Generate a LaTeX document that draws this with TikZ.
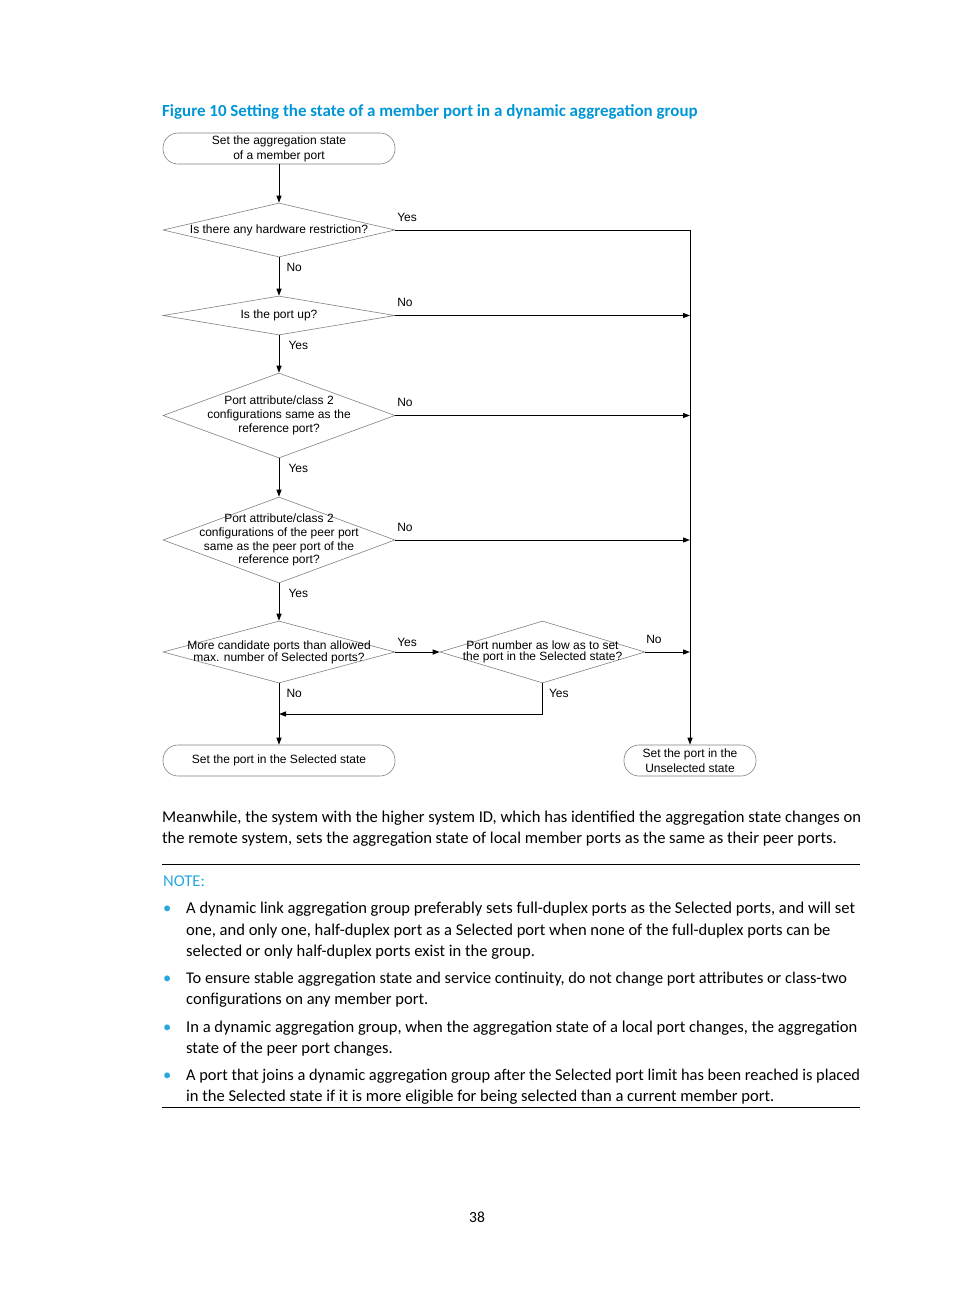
\documentclass[tikz,border=0pt]{standalone}
\usepackage{fontspec}
\setmainfont{Carlito}
\newfontfamily\arialf{Liberation Sans}
\usetikzlibrary{arrows.meta,shapes.geometric}
\definecolor{hpblue}{HTML}{0096D6}
\definecolor{noteblue}{HTML}{2AA6DF}
\definecolor{shapegray}{HTML}{808080}
\begin{document}
\begin{tikzpicture}[x=1pt,y=-1pt,
  dia/.style={draw=shapegray, line width=0.6pt, shape=diamond, inner sep=0pt, minimum width=232pt},
  term/.style={draw=shapegray, line width=0.6pt, rounded corners=15pt, minimum height=31pt, inner sep=0pt, align=center, font=\arialf\fontsize{12}{15}\selectfont},
  dlab/.style={font=\arialf\fontsize{12}{13.9}\selectfont, align=center, inner sep=0pt},
  dlabt/.style={font=\arialf\fontsize{12}{10.8}\selectfont, align=center, inner sep=0pt},
  arr/.style={line width=1pt, -{Triangle[length=7pt,width=5pt]}},
  elab/.style={font=\arialf\fontsize{12}{14}\selectfont, inner sep=0pt},
  hlab/.style={elab, pos=0, anchor=south west, xshift=1.5pt, yshift=8pt},
  vlab/.style={elab, pos=0, anchor=north west, xshift=7pt, yshift=-5.5pt},
  body/.style={anchor=base west, inner sep=0pt, font=\fontsize{16.55}{21}\selectfont},
  bullet/.style={anchor=base west, inner sep=0pt, text=noteblue, font=\fontsize{16.5}{21}\selectfont},
  rulel/.style={line width=0.9pt}
]
\useasboundingbox (0,0) rectangle (954,1296);

% title
\node[body, text=hpblue, font=\bfseries\fontsize{16.95}{18}\selectfont] (title) at (162,116) {Figure 10 Setting the state of a member port in a dynamic aggregation group};

% flowchart nodes
\node[term, minimum width=232pt] (start) at (279,148.5) {Set the aggregation state\\of a member port};
\node[dia, minimum height=54pt, label={[dlab]center:Is there any hardware restriction?}] (d1) at (279,230) {};
\node[dia, minimum height=39pt, label={[dlab]center:Is the port up?}] (d2) at (279,315.5) {};
\node[dia, minimum height=85pt, label={[dlab]center:Port attribute/class 2\\configurations same as the\\reference port?}] (d3) at (279,415.5) {};
\node[dia, minimum height=86pt, label={[dlab]center:Port attribute/class 2\\configurations of the peer port\\same as the peer port of the\\reference port?}] (d4) at (279,540) {};
\node[dia, minimum height=62pt, label={[dlabt]center:More candidate ports than allowed\\max. number of Selected ports?}] (d5) at (279,652) {};
\node[dia, minimum width=205pt, minimum height=62pt, label={[dlabt]center:Port number as low as to set\\the port in the Selected state?}] (d6) at (542.5,652) {};
\node[term, minimum width=232pt] (sel) at (279,760.5) {Set the port in the Selected state};
\node[term, minimum width=132pt] (unsel) at (690,760.5) {Set the port in the\\Unselected state};
\coordinate (j) at (279,714);

% connectors
\draw[arr] (start.south) -- (d1.north);
\draw[arr] (d1.east) -| node[hlab]{Yes} (unsel.north);
\draw[arr] (d1.south) -- node[vlab]{No} (d2.north);
\draw[arr] (d2.east) -- node[hlab]{No} (d2.east -| unsel.north);
\draw[arr] (d2.south) -- node[vlab, xshift=2pt]{Yes} (d3.north);
\draw[arr] (d3.east) -- node[hlab]{No} (d3.east -| unsel.north);
\draw[arr] (d3.south) -- node[vlab, xshift=2pt]{Yes} (d4.north);
\draw[arr] (d4.east) -- node[hlab]{No} (d4.east -| unsel.north);
\draw[arr] (d4.south) -- node[vlab, xshift=2pt]{Yes} (d5.north);
\draw[arr] (d5.east) -- node[hlab, yshift=-3pt]{Yes} (d6.west);
\draw[arr] (d6.east) -- node[hlab, xshift=-1pt]{No} (d6.east -| unsel.north);
\draw[arr] (d5.south) -- node[vlab]{No} (sel.north);
\draw[arr] (d6.south) |- node[vlab, xshift=-1pt]{Yes} (j);

% body text
\node[body] (p1) at (162,822) {Meanwhile, the system with the higher system ID, which has identified the aggregation state changes on};
\node[body] (p2) at (162,843) {the remote system, sets the aggregation state of local member ports as the same as their peer ports.};
\coordinate (r1a) at (162,864);
\coordinate (r1b) at (860,864);
\draw[rulel] (r1a) -- (r1b);
\node[body, text=noteblue] (note) at (163,886) {NOTE:};

\node[bullet] (b1) at (163,913) {•};
\node[body] (b1a) at (186,913) {A dynamic link aggregation group preferably sets full-duplex ports as the Selected ports, and will set};
\node[body] (b1b) at (186,935) {one, and only one, half-duplex port as a Selected port when none of the full-duplex ports can be};
\node[body] (b1c) at (186,956) {selected or only half-duplex ports exist in the group.};

\node[bullet] (b2) at (163,983) {•};
\node[body, font=\fontsize{16.35}{21}\selectfont] (b2a) at (186,983) {To ensure stable aggregation state and service continuity, do not change port attributes or class-two};
\node[body] (b2b) at (186,1004) {configurations on any member port.};

\node[bullet] (b3) at (163,1032) {•};
\node[body] (b3a) at (186,1032) {In a dynamic aggregation group, when the aggregation state of a local port changes, the aggregation};
\node[body] (b3b) at (186,1053) {state of the peer port changes.};

\node[bullet] (b4) at (163,1080) {•};
\node[body, font=\fontsize{16.38}{21}\selectfont] (b4a) at (186,1080) {A port that joins a dynamic aggregation group after the Selected port limit has been reached is placed};
\node[body] (b4b) at (186,1101) {in the Selected state if it is more eligible for being selected than a current member port.};
\coordinate (r2a) at (162,1107);
\coordinate (r2b) at (860,1107);
\draw[rulel] (r2a) -- (r2b);

\node[anchor=base, inner sep=0pt, font=\fontsize{15.5}{18}\selectfont] (page) at (477,1222) {38};
\end{tikzpicture}
\end{document}
